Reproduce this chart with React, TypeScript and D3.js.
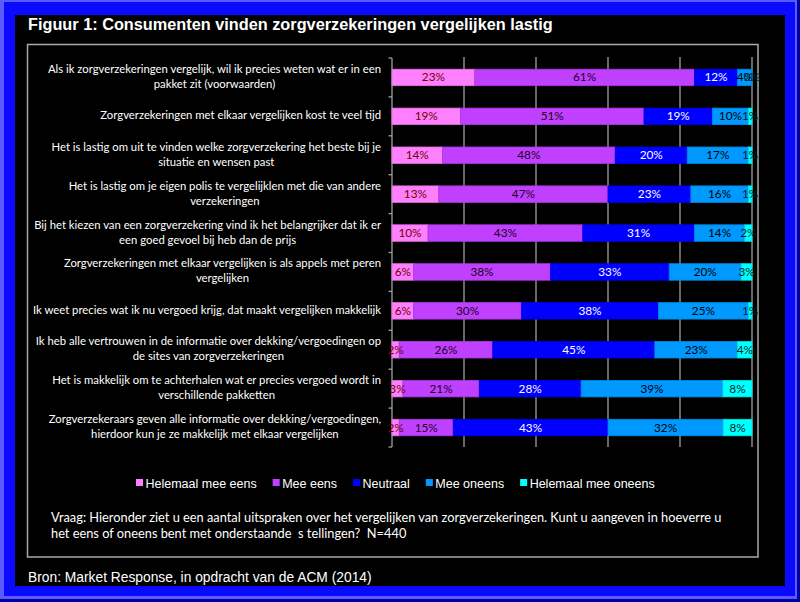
import React, { useEffect, useRef } from 'react';
import * as d3 from 'd3';

const categories: string[][] = [
  ["Als ik zorgverzekeringen vergelijk, wil ik precies weten wat er in een", "pakket zit (voorwaarden)"],
  ["Zorgverzekeringen met elkaar vergelijken kost te veel tijd"],
  ["Het is lastig om uit te vinden welke zorgverzekering het beste bij je", "situatie en wensen past"],
  ["Het is lastig om je eigen polis te vergelijklen met die van andere", "verzekeringen"],
  ["Bij het kiezen van een zorgverzekering vind ik het belangrijker dat ik er", "een goed gevoel bij heb dan de prijs"],
  ["Zorgverzekeringen met elkaar vergelijken is als appels met peren", "vergelijken"],
  ["Ik weet precies wat ik nu vergoed krijg, dat maakt vergelijken makkelijk"],
  ["Ik heb alle vertrouwen in de informatie over dekking/vergoedingen op", "de sites van zorgverzekeringen"],
  ["Het is makkelijk om te achterhalen wat er precies vergoed wordt in", "verschillende pakketten"],
  ["Zorgverzekeraars geven alle informatie over dekking/vergoedingen,", "hierdoor kun je ze makkelijk met elkaar vergelijken"],
];
const seriesNames = ["Helemaal mee eens", "Mee eens", "Neutraal", "Mee oneens", "Helemaal mee oneens"];
const helemaalMeeEens = [23, 19, 14, 13, 10, 6, 6, 2, 3, 2];
const meeEens = [61, 51, 48, 47, 43, 38, 30, 26, 21, 15];
const neutraal = [12, 19, 20, 23, 31, 33, 38, 45, 28, 43];
const meeOneens = [4, 10, 17, 16, 14, 20, 25, 23, 39, 32];
const helemaalMeeOneens = [0, 1, 1, 1, 2, 3, 1, 4, 8, 8];
const xTicks = [0.2, 0.4, 0.6, 0.8, 1];
const seriesColors = ["#ff80ff", "#c040ff", "#0000ff", "#0099ff", "#00ffff"];
const labelColors = ["#700000", "#200020", "#ffffff", "#000000", "#002828"];
const titleText = "Figuur 1: Consumenten vinden zorgverzekeringen vergelijken lastig";
const questionLines = [
  "Vraag: Hieronder ziet u een aantal uitspraken over het vergelijken van zorgverzekeringen. Kunt u aangeven in hoeverre u",
  "het eens of oneens bent met onderstaande  s tellingen?  N=440",
];
const sourceText = "Bron: Market Response, in opdracht van de ACM (2014)";

const W = 800;
const H = 602;
const CAL = "Lato, 'Open Sans', sans-serif";
const ARIAL = "'Liberation Sans', Arial, sans-serif";

export default function App() {
  const ref = useRef<SVGSVGElement | null>(null);

  useEffect(() => {
    const svg = d3.select(ref.current);
    svg.selectAll('*').remove();

    // frame
    svg.append('rect').attr('x', 0).attr('y', 0).attr('width', W).attr('height', H).attr('fill', '#0000a0');
    svg.append('rect').attr('x', 0).attr('y', 0).attr('width', W - 3).attr('height', H - 3).attr('fill', '#5a5aff');
    svg.append('rect').attr('x', 4).attr('y', 2).attr('width', W - 9).attr('height', H - 8).attr('fill', '#0a0aff');
    svg.append('rect').attr('x', 15).attr('y', 15).attr('width', 770).attr('height', 571).attr('fill', '#000');

    // inner box
    svg.append('rect').attr('x', 27.5).attr('y', 44.5).attr('width', 730.5).attr('height', 512.5)
      .attr('fill', 'none').attr('stroke', '#a8a8a8').attr('stroke-width', 1.5);

    // title
    svg.append('text').attr('x', 28).attr('y', 30).attr('fill', '#fff')
      .attr('font-family', ARIAL).attr('font-weight', 'bold').attr('font-size', 16.3).text(titleText);

    // scales
    const x = d3.scaleLinear().domain([0, 1]).range([392, 752]);
    const y = d3.scaleBand<number>().domain(d3.range(categories.length)).range([58, 447])
      .paddingInner(0.576).paddingOuter(0.288);
    const step = y.step();

    const rows = categories.map((_, i) => ({
      s0: helemaalMeeEens[i], s1: meeEens[i], s2: neutraal[i], s3: meeOneens[i], s4: helemaalMeeOneens[i],
    }));
    const raw = [helemaalMeeEens, meeEens, neutraal, meeOneens, helemaalMeeOneens];
    const keys = ['s0', 's1', 's2', 's3', 's4'];
    const stacked = d3.stack<any>().keys(keys).offset(d3.stackOffsetExpand)(rows);

    // gridlines
    svg.append('g').selectAll('line').data(xTicks).join('line')
      .attr('x1', d => x(d)).attr('x2', d => x(d))
      .attr('y1', 57).attr('y2', 447)
      .attr('stroke', '#a0a0a0').attr('stroke-width', 1.3);

    // y axis
    const [r0, r1] = y.range();
    svg.append('line').attr('x1', 392).attr('x2', 392).attr('y1', r0).attr('y2', r1)
      .attr('stroke', '#a0a0a0').attr('stroke-width', 1.3);
    svg.append('g').selectAll('line').data(d3.range(categories.length + 1)).join('line')
      .attr('x1', 388.5).attr('x2', 392).attr('y1', i => r0 + i * step).attr('y2', i => r0 + i * step)
      .attr('stroke', '#a0a0a0').attr('stroke-width', 1.3);

    // bars
    stacked.forEach((layer, si) => {
      const g = svg.append('g');
      g.selectAll('rect').data(layer).join('rect')
        .attr('x', d => x(d[0]))
        .attr('y', (_, i) => y(i)!)
        .attr('width', d => Math.max(0, x(d[1]) - x(d[0])))
        .attr('height', y.bandwidth())
        .attr('fill', seriesColors[si])
        .attr('stroke', d3.color(seriesColors[si])!.darker(0.35).formatHex())
        .attr('stroke-width', 0.8);
    });
    stacked.forEach((layer, si) => {
      const g = svg.append('g');
      g.selectAll('text').data(layer).join('text')
        .attr('x', d => (x(d[0]) + x(d[1])) / 2)
        .attr('y', (_, i) => y(i)! + y.bandwidth() / 2 + 4)
        .attr('text-anchor', 'middle')
        .attr('font-family', CAL).attr('font-size', 11.8)
        .attr('fill', labelColors[si])
        .text((_, i) => `${raw[si][i]}%`);
    });

    // category labels
    categories.forEach((lines, i) => {
      const cy = y(i)! + y.bandwidth() / 2;
      const g = svg.append('g');
      const texts = lines.map((ln, j) =>
        g.append('text')
          .attr('y', cy + 3 + (j - (lines.length - 1) / 2) * 15)
          .attr('text-anchor', 'middle')
          .attr('font-family', CAL).attr('font-size', 11.3)
          .attr('fill', '#fff').text(ln)
      );
      const widths = texts.map(t => (t.node() as SVGTextElement).getComputedTextLength());
      const mw = Math.max(...widths);
      texts.forEach(t => t.attr('x', 381 - mw / 2));
    });

    // legend
    const lg = svg.append('g');
    let lx = 136;
    seriesNames.forEach((name, i) => {
      lg.append('rect').attr('x', lx).attr('y', 479).attr('width', 7).attr('height', 7).attr('fill', seriesColors[i]);
      const t = lg.append('text').attr('x', lx + 9.5).attr('y', 487.5)
        .attr('font-family', ARIAL).attr('font-size', 12.5).attr('fill', '#fff').text(name);
      const w = (t.node() as SVGTextElement).getComputedTextLength();
      lx += 9.5 + w + 16;
    });

    // question
    questionLines.forEach((ln, j) => {
      svg.append('text').attr('x', 51).attr('y', 522 + j * 15.5)
        .attr('font-family', CAL).attr('font-size', 12.8).attr('fill', '#fff')
        .style('white-space', 'pre').text(ln);
    });

    // source
    svg.append('text').attr('x', 28).attr('y', 582).attr('fill', '#fff')
      .attr('font-family', ARIAL).attr('font-size', 13.8).text(sourceText);
  }, []);

  return (
    <svg ref={ref} width={W} height={H}
      style={{ position: 'absolute', left: 0, top: 0, display: 'block' }} />
  );
}
